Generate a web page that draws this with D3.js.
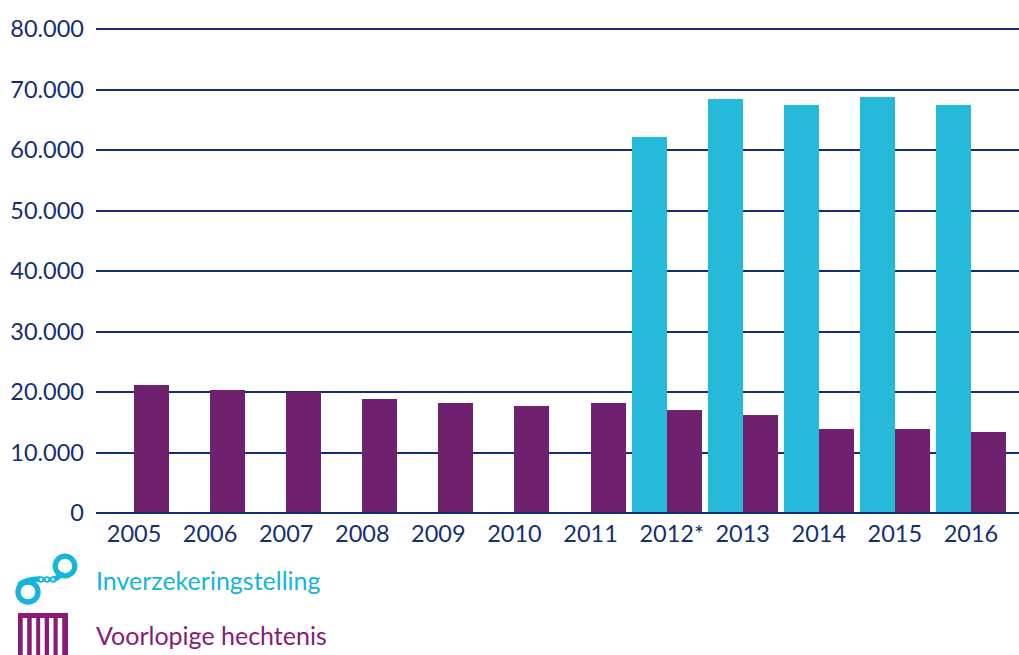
<!DOCTYPE html>
<html>
<head>
<meta charset="utf-8">
<script src="https://cdn.jsdelivr.net/npm/d3@7"></script>
<style>
  body { margin: 0; background: white; }
  text { font-family: Lato, sans-serif; }
</style>
</head>
<body>
<div id="container"></div>
<script>
let w = 1019;
let h = 655;

let years = ["2005", "2006", "2007", "2008", "2009", "2010", "2011", "2012*", "2013", "2014", "2015", "2016"];
let voorlopig = [21150, 20350, 20000, 18850, 18200, 17700, 18200, 17000, 16200, 13900, 13900, 13400];
let inverzekering = [null, null, null, null, null, null, null, 62150, 68400, 67450, 68750, 67450];
let yTicks = [0, 10000, 20000, 30000, 40000, 50000, 60000, 70000, 80000];

let navy = "#132f73";
let blue = "#26b9da";
let purple = "#6f206f";
let legendBlue = "#13b5d8";
let legendPurple = "#8a1a78";

let viz = d3.select("#container")
  .append("svg")
  .attr("width", w)
  .attr("height", h)
  .style("display", "block")
  ;

let xScale = d3.scaleBand().domain(years).range([96, 1009]);
let yScale = d3.scaleLinear().domain([0, 80000]).rangeRound([513, 29]);
let barW = 35;

// grid lines + y labels
let yAxis = d3.axisLeft(yScale)
  .tickValues(yTicks)
  .tickSize(-(w - 96))
  .tickPadding(12)
  .offset(0)
  .tickFormat(d => d3.format(",")(d).replace(/,/g, "."));

let yAxisGroup = viz.append("g").attr("class", "yaxis")
  .attr("transform", "translate(96, 0)")
  .call(yAxis);
yAxisGroup.select(".domain").remove();
yAxisGroup.selectAll("line").attr("stroke", navy).attr("stroke-width", 2);
yAxisGroup.selectAll("text").attr("fill", navy).attr("font-size", 23.5).style("font-family", "Lato, sans-serif");

// bars
function getCenter(i) {
  return Math.round(xScale(years[i]) + xScale.bandwidth() / 2);
}

let blueBars = inverzekering.map((d, i) => ({ value: d, index: i })).filter(d => d.value != null);

viz.append("g").attr("class", "inverzekering")
  .selectAll("rect").data(blueBars).enter()
  .append("rect")
  .attr("x", d => getCenter(d.index) - barW)
  .attr("y", d => yScale(d.value))
  .attr("width", barW)
  .attr("height", d => yScale(0) - yScale(d.value))
  .attr("fill", blue)
  ;

viz.append("g").attr("class", "voorlopig")
  .selectAll("rect").data(voorlopig).enter()
  .append("rect")
  .attr("x", (d, i) => getCenter(i))
  .attr("y", d => yScale(d))
  .attr("width", barW)
  .attr("height", d => yScale(0) - yScale(d))
  .attr("fill", purple)
  ;

// baseline goes over the bars
viz.append("line")
  .attr("x1", 96)
  .attr("x2", w)
  .attr("y1", yScale(0))
  .attr("y2", yScale(0))
  .attr("stroke", navy)
  .attr("stroke-width", 2)
  ;

// x axis
let xAxis = d3.axisBottom(xScale).tickSize(0).tickPadding(12);
let xAxisGroup = viz.append("g").attr("class", "xaxis")
  .attr("transform", "translate(0, 513)")
  .call(xAxis);
xAxisGroup.select(".domain").remove();
xAxisGroup.selectAll("text").attr("fill", navy).attr("font-size", 23.5).style("font-family", "Lato, sans-serif");
// the asterisk label sits a bit to the right in the original
xAxisGroup.selectAll("text").filter(d => d == "2012*").attr("dx", 5);

// legend
viz.append("text").attr("x", 96).attr("y", 590)
  .attr("font-size", 25).attr("fill", legendBlue).text("Inverzekeringstelling");
viz.append("text").attr("x", 96).attr("y", 645)
  .attr("font-size", 25).attr("fill", legendPurple).text("Voorlopige hechtenis");

// handcuffs icon
let cuffs = viz.append("g").attr("class", "cuffs");
cuffs.append("circle").attr("cx", 65).attr("cy", 566).attr("r", 9.8)
  .attr("fill", "none").attr("stroke", legendBlue).attr("stroke-width", 5.2);
cuffs.append("circle").attr("cx", 28).attr("cy", 592).attr("r", 10)
  .attr("fill", "none").attr("stroke", legendBlue).attr("stroke-width", 5.4);
cuffs.append("path").attr("d", "M19,585 Q26,579 40,579").attr("fill", "none")
  .attr("stroke", legendBlue).attr("stroke-width", 5.5);
cuffs.append("path").attr("d", "M53,579 Q59,579 61,572").attr("fill", "none")
  .attr("stroke", legendBlue).attr("stroke-width", 5.5);
cuffs.selectAll(".link").data([41, 47, 53]).enter().append("circle")
  .attr("class", "link").attr("cx", d => d).attr("cy", 579.5).attr("r", 2.4)
  .attr("fill", "white").attr("stroke", legendBlue).attr("stroke-width", 1.8);

// cell bars icon
let cell = viz.append("g").attr("class", "cell");
cell.append("rect").attr("x", 18).attr("y", 613).attr("width", 50).attr("height", 42).attr("fill", legendPurple);
cell.selectAll(".gap").data([22.7, 31.7, 40.2, 49, 57.7]).enter().append("rect")
  .attr("class", "gap").attr("x", d => d).attr("y", 618).attr("width", 4.5).attr("height", 37).attr("fill", "white");
</script>
</body>
</html>
